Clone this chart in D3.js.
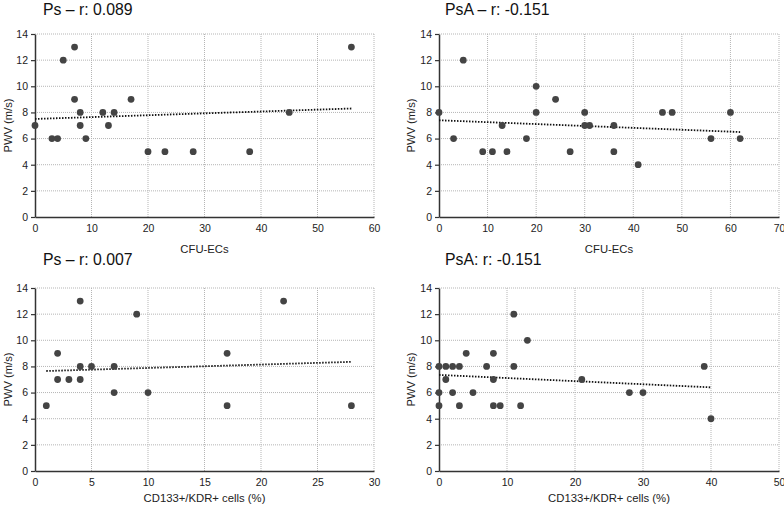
<!DOCTYPE html>
<html>
<head>
<meta charset="utf-8">
<script src="https://cdn.jsdelivr.net/npm/d3@7/dist/d3.min.js"></script>
<style>
  body { margin: 0; background: #fff; }
  text { font-family: "Liberation Sans", Arial, sans-serif; }
</style>
</head>
<body>
<div id="chart"></div>
<script>
// data
var titles = ["Ps \u2013 r: 0.089", "PsA \u2013 r: -0.151", "Ps \u2013 r: 0.007", "PsA: r: -0.151"];
var xLabels = ["CFU-ECs", "CFU-ECs", "CD133+/KDR+ cells (%)", "CD133+/KDR+ cells (%)"];
var yLabel = "PWV (m/s)";
var xMax = [60, 70, 30, 50];
var xStep = [10, 10, 5, 10];
var yTicks = [0, 2, 4, 6, 8, 10, 12, 14];

var psCfuX = [0, 3, 4, 5, 7, 7, 8, 8, 9, 12, 13, 14, 17, 20, 23, 28, 38, 45, 56];
var psCfuY = [7, 6, 6, 12, 13, 9, 8, 7, 6, 8, 7, 8, 9, 5, 5, 5, 5, 8, 13];

var psaCfuX = [0, 3, 5, 9, 11, 13, 14, 18, 20, 20, 24, 27, 30, 30, 31, 36, 36, 41, 46, 48, 56, 60, 62];
var psaCfuY = [8, 6, 12, 5, 5, 7, 5, 6, 10, 8, 9, 5, 8, 7, 7, 7, 5, 4, 8, 8, 6, 8, 6];

var psCdX = [1, 2, 2, 3, 4, 4, 4, 5, 7, 7, 9, 10, 17, 17, 22, 28];
var psCdY = [5, 9, 7, 7, 13, 8, 7, 8, 8, 6, 12, 6, 9, 5, 13, 5];

var psaCdX = [0, 0, 0, 1, 1, 2, 2, 3, 3, 4, 5, 7, 8, 8, 8, 9, 11, 11, 12, 13, 21, 28, 30, 39, 40];
var psaCdY = [8, 6, 5, 8, 7, 8, 6, 8, 5, 9, 6, 8, 9, 7, 5, 5, 12, 8, 5, 10, 7, 6, 6, 8, 4];

// trend line end points [x1, y1, x2, y2]
var trends = [
  [0, 7.5, 56, 8.3],
  [0, 7.4, 62, 6.5],
  [1, 7.65, 28, 8.35],
  [0, 7.35, 40, 6.4]
];

var w = 784;
var h = 508;

var svg = d3.select("#chart")
  .append("svg")
  .attr("width", w)
  .attr("height", h);

// plot boxes [left, right, top, bottom]
var boxes = [
  [35, 374, 34, 217],
  [439, 779, 34, 217],
  [35, 374, 288, 471],
  [439, 779, 288, 471]
];
var titlePos = [[43, 15], [445, 15], [43, 265], [445, 265]];
var xLabelY = [253, 253, 502, 502];
var yLabelX = [8, 411, 8, 411];

var xs = [psCfuX, psaCfuX, psCdX, psaCdX];
var ys = [psCfuY, psaCfuY, psCdY, psaCdY];

boxes.forEach(function(b, p) {
  var x = d3.scaleLinear().domain([0, xMax[p]]).range([b[0], b[1]]);
  var y = d3.scaleLinear().domain([0, 14]).range([b[3], b[2]]);
  var xTicks = d3.range(0, xMax[p] + 0.001, xStep[p]);
  var g = svg.append("g");

  // grid
  g.selectAll("line.hg")
    .data(yTicks.slice(1))
    .join("line")
    .attr("x1", b[0]).attr("x2", b[1])
    .attr("y1", function(d) { return y(d); })
    .attr("y2", function(d) { return y(d); })
    .attr("stroke", "#b5b5b5")
    .attr("stroke-dasharray", "1,1");
  g.selectAll("line.vg")
    .data(xTicks.slice(1))
    .join("line")
    .attr("y1", b[2]).attr("y2", b[3])
    .attr("x1", function(d) { return x(d); })
    .attr("x2", function(d) { return x(d); })
    .attr("stroke", "#b5b5b5")
    .attr("stroke-dasharray", "1,1");

  // axes
  var yAxis = g.append("g")
    .attr("transform", "translate(" + b[0] + ",0)")
    .call(d3.axisLeft(y).tickValues(yTicks).tickSize(4).tickSizeOuter(0).tickPadding(3));
  var xAxis = g.append("g")
    .attr("transform", "translate(0," + b[3] + ")")
    .call(d3.axisBottom(x).tickValues(xTicks).tickSize(0).tickPadding(7.5));
  [yAxis, xAxis].forEach(function(a) {
    a.select(".domain").attr("stroke", "#333").attr("stroke-width", 1.5);
    a.selectAll(".tick line").attr("stroke", "#333").attr("stroke-width", 1.2);
    a.selectAll(".tick text")
      .attr("fill", "#222")
      .style("font-size", "10.5px")
      .style("font-family", "'Liberation Sans', Arial, sans-serif");
  });

  // trend line
  var t = trends[p];
  g.append("line")
    .attr("x1", x(t[0])).attr("y1", y(t[1]))
    .attr("x2", x(t[2])).attr("y2", y(t[3]))
    .attr("stroke", "#111")
    .attr("stroke-width", 1.8)
    .attr("stroke-dasharray", "1.5,1.5");

  // points
  g.selectAll("circle")
    .data(xs[p])
    .join("circle")
    .attr("cx", function(d) { return x(d); })
    .attr("cy", function(d, i) { return y(ys[p][i]); })
    .attr("r", 3.4)
    .attr("fill", "#444");

  // texts
  g.append("text")
    .attr("x", titlePos[p][0])
    .attr("y", titlePos[p][1])
    .attr("fill", "#111")
    .style("font-size", "15.8px")
    .text(titles[p]);

  g.append("text")
    .attr("x", (b[0] + b[1]) / 2)
    .attr("y", xLabelY[p])
    .attr("text-anchor", "middle")
    .attr("fill", "#222")
    .style("font-size", "11.3px")
    .text(xLabels[p]);

  g.append("text")
    .attr("transform", "translate(" + yLabelX[p] + "," + (b[2] + b[3]) / 2 + ") rotate(-90)")
    .attr("text-anchor", "middle")
    .attr("dy", "0.35em")
    .attr("fill", "#222")
    .style("font-size", "11.2px")
    .text(yLabel);
});
</script>
</body>
</html>
